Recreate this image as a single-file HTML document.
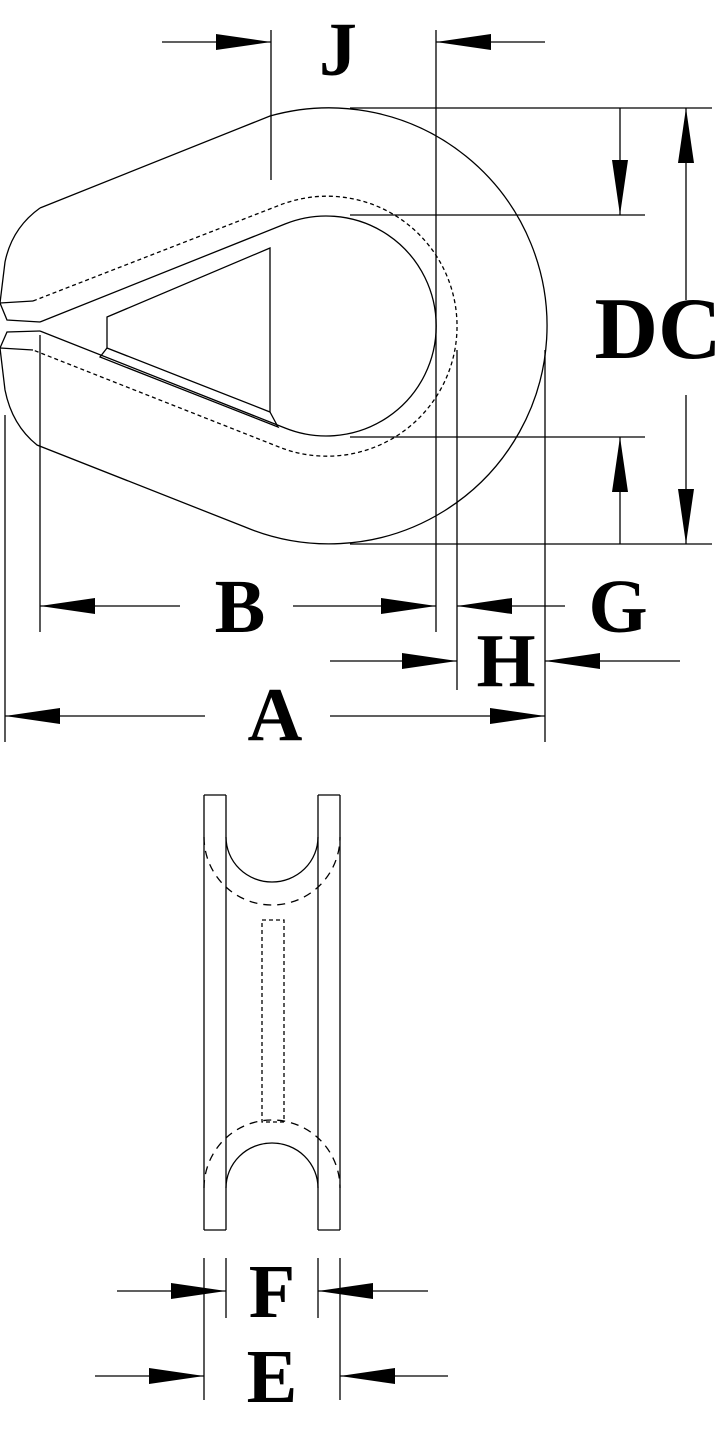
<!DOCTYPE html>
<html><head><style>html,body{margin:0;padding:0;background:#fff}svg{display:block}</style></head>
<body>
<svg width="722" height="1436" viewBox="0 0 722 1436" xmlns="http://www.w3.org/2000/svg">
<defs>
<marker id="a" viewBox="0 0 55 16" refX="55" refY="8" markerWidth="55" markerHeight="16" markerUnits="userSpaceOnUse" orient="auto"><path d="M0,0 L55,8 L0,16 Z" fill="#000"/></marker>
</defs>
<g fill="none" stroke="#000" stroke-width="1.3">
<!-- outer shape -->
<path d="M40,208 L270,116 A218,218 0 1 1 245,527 L37,445 Q12,425 5,390 L0,348 L7,332 L40,331"/>
<path d="M40,208 Q12,228 5,262 L0,303 L7,320 L40,322"/>
<line x1="0" y1="303" x2="33" y2="301"/>
<line x1="0" y1="348" x2="33" y2="350"/>
<!-- inner teardrop -->
<path d="M40,322 L285,224 A110,110 0 1 1 285,428 L40,331"/>
<!-- dashed -->
<path d="M33,301 L280,205 A130,130 0 1 1 279,447 L33,350" stroke-dasharray="4,3"/>
<!-- triangle -->
<path d="M107,317 L270,248 L270,412 L107,348 Z"/>
<path d="M107,348 L100,357 L278,427 L270,412"/>
<!-- extension lines -->
<line x1="271" y1="30" x2="271" y2="180"/>
<line x1="436" y1="30" x2="436" y2="632"/>
<line x1="350" y1="108" x2="712" y2="108"/>
<line x1="350" y1="215" x2="645" y2="215"/>
<line x1="350" y1="437" x2="645" y2="437"/>
<line x1="350" y1="544" x2="712" y2="544"/>
<line x1="40" y1="335" x2="40" y2="632"/>
<line x1="457" y1="350" x2="457" y2="690"/>
<line x1="545" y1="350" x2="545" y2="742"/>
<line x1="5" y1="415" x2="5" y2="742"/>
<!-- dimension arrows -->
<line x1="162" y1="42" x2="271" y2="42" marker-end="url(#a)"/>
<line x1="545" y1="42" x2="436" y2="42" marker-end="url(#a)"/>
<line x1="620" y1="108" x2="620" y2="215" marker-end="url(#a)"/>
<line x1="620" y1="544" x2="620" y2="437" marker-end="url(#a)"/>
<line x1="686" y1="300" x2="686" y2="108" marker-end="url(#a)"/>
<line x1="686" y1="395" x2="686" y2="544" marker-end="url(#a)"/>
<line x1="180" y1="606" x2="40" y2="606" marker-end="url(#a)"/>
<line x1="293" y1="606" x2="436" y2="606" marker-end="url(#a)"/>
<line x1="565" y1="606" x2="457" y2="606" marker-end="url(#a)"/>
<line x1="330" y1="661" x2="457" y2="661" marker-end="url(#a)"/>
<line x1="680" y1="661" x2="545" y2="661" marker-end="url(#a)"/>
<line x1="205" y1="716" x2="5" y2="716" marker-end="url(#a)"/>
<line x1="330" y1="716" x2="545" y2="716" marker-end="url(#a)"/>
<!-- side view -->
<line x1="204" y1="795" x2="204" y2="1230"/>
<line x1="226" y1="795" x2="226" y2="1230"/>
<line x1="318" y1="795" x2="318" y2="1230"/>
<line x1="340" y1="795" x2="340" y2="1230"/>
<line x1="204" y1="795" x2="226" y2="795"/>
<line x1="318" y1="795" x2="340" y2="795"/>
<line x1="204" y1="1230" x2="226" y2="1230"/>
<line x1="318" y1="1230" x2="340" y2="1230"/>
<path d="M226,837 A46,45 0 0 0 318,837"/>
<path d="M226,1188 A46,45 0 0 1 318,1188"/>
<path d="M204,837 A68,68 0 0 0 340,837" stroke-dasharray="8,6"/>
<path d="M204,1188 A68,68 0 0 1 340,1188" stroke-dasharray="8,6"/>
<rect x="262" y="920" width="22" height="202" stroke-dasharray="4,3"/>
<line x1="226" y1="1258" x2="226" y2="1318"/>
<line x1="318" y1="1258" x2="318" y2="1318"/>
<line x1="204" y1="1258" x2="204" y2="1400"/>
<line x1="340" y1="1258" x2="340" y2="1400"/>
<line x1="117" y1="1291" x2="226" y2="1291" marker-end="url(#a)"/>
<line x1="428" y1="1291" x2="318" y2="1291" marker-end="url(#a)"/>
<line x1="95" y1="1376" x2="204" y2="1376" marker-end="url(#a)"/>
<line x1="448" y1="1376" x2="340" y2="1376" marker-end="url(#a)"/>
</g>
<g font-family="Liberation Serif, serif" font-weight="bold" text-anchor="middle" fill="#000">
<text x="338" y="75" font-size="76">J</text>
<text x="658" y="358" font-size="88">DC</text>
<text x="240" y="632" font-size="76">B</text>
<text x="618" y="632" font-size="76">G</text>
<text x="506" y="686" font-size="76">H</text>
<text x="275" y="740" font-size="76">A</text>
<text x="272" y="1317" font-size="76">F</text>
<text x="272" y="1402" font-size="76">E</text>
</g>
</svg>
</body></html>
